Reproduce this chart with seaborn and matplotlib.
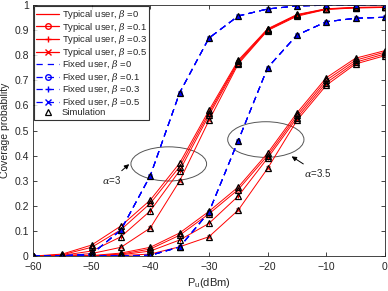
import matplotlib
matplotlib.use('Agg')
import matplotlib.pyplot as plt
import seaborn as sns
import numpy as np
from matplotlib.patches import Ellipse
from matplotlib.lines import Line2D

# transmit power of the user (dBm)
p_u = [-60, -55, -50, -45, -40, -35, -30, -25, -20, -15, -10, -5, 0]
betas = ['0', '0.1', '0.3', '0.5']

# typical user, alpha = 3
typ_a3 = {
    '0':   [0, 0.008, 0.044, 0.120, 0.223, 0.370, 0.580, 0.780, 0.905, 0.962, 0.985, 0.990, 0.992],
    '0.1': [0, 0.005, 0.035, 0.105, 0.210, 0.356, 0.570, 0.775, 0.903, 0.960, 0.984, 0.990, 0.991],
    '0.3': [0, 0.003, 0.020, 0.077, 0.180, 0.340, 0.560, 0.770, 0.900, 0.958, 0.983, 0.989, 0.990],
    '0.5': [0, 0.001, 0.010, 0.035, 0.112, 0.299, 0.540, 0.765, 0.898, 0.955, 0.982, 0.988, 0.990],
}
# typical user, alpha = 3.5
typ_a35 = {
    '0':   [0, 0, 0.002, 0.012, 0.035, 0.092, 0.178, 0.275, 0.410, 0.570, 0.710, 0.788, 0.818],
    '0.1': [0, 0, 0.001, 0.008, 0.028, 0.083, 0.168, 0.265, 0.400, 0.560, 0.700, 0.780, 0.812],
    '0.3': [0, 0, 0.001, 0.005, 0.020, 0.064, 0.130, 0.239, 0.390, 0.550, 0.690, 0.772, 0.805],
    '0.5': [0, 0, 0.000, 0.002, 0.008, 0.037, 0.077, 0.183, 0.349, 0.540, 0.680, 0.765, 0.798],
}
# fixed user (same for every beta)
fix_a3 = [0, 0.001, 0.008, 0.104, 0.320, 0.650, 0.868, 0.956, 0.984, 0.996, 0.999, 1.0, 1.0]
fix_a35 = [0, 0, 0, 0.001, 0.003, 0.036, 0.175, 0.460, 0.750, 0.880, 0.933, 0.947, 0.951]

sns.set_style("ticks")
plt.rcParams['font.family'] = ['Liberation Sans', 'DejaVu Sans']
plt.rcParams['mathtext.fontset'] = 'dejavuserif'

fig = plt.figure(figsize=(3.88, 2.91), dpi=100)
ax = fig.add_axes([0.085, 0.12, 0.907, 0.863])

markers = [None, 'o', '+', 'x']
handles = []
for b, m in zip(betas, markers):
    for data in (typ_a3, typ_a35):
        sns.lineplot(x=p_u, y=data[b], ax=ax, color='red', lw=0.7, marker=m,
                     markersize=2.5, markeredgewidth=0.7, mfc='none', mec='red')
    handles.append(Line2D([], [], color='red', lw=0.9, marker=m, markersize=4,
                          mfc='none', mec='red', label=r'Typical user, $\beta$ =' + b))
for b, m in zip(betas, markers):
    for data in (fix_a3, fix_a35):
        sns.lineplot(x=p_u, y=data, ax=ax, color='blue', lw=0.8, marker=m,
                     markersize=2.5, markeredgewidth=0.7, mfc='blue', mec='blue',
                     dashes=(6, 4))
    handles.append(Line2D([], [], color='blue', lw=0.9, ls=(0, (5, 4)), marker=m,
                          markersize=4, mfc='none', mec='blue',
                          label=r'Fixed user, $\beta$ =' + b))

# simulation points
for data in list(typ_a3.values()) + list(typ_a35.values()):
    ax.plot(p_u, data, '^', ms=4.5, mfc='none', mec='black', mew=0.9)
for data in (fix_a3, fix_a35):
    ax.plot(p_u, data, '^', ms=4.5, mfc='blue', mec='black', mew=0.9)
handles.append(Line2D([], [], ls='none', marker='^', ms=4.5, mfc='none',
                      mec='black', mew=0.9, label='Simulation'))

# ellipses and labels
ax.add_patch(Ellipse((-36.85, 0.367), 12.9, 0.136, fill=False, ec='#555555', lw=0.7))
ax.add_patch(Ellipse((-20.3, 0.464), 13.0, 0.142, fill=False, ec='#555555', lw=0.7))
ax.annotate(r'$\alpha$=3', xy=(-43.6, 0.366), xytext=(-48.3, 0.303),
            fontsize=7, color='#262626', va='center',
            arrowprops=dict(arrowstyle='-|>', color='black', lw=0.7,
                            mutation_scale=7, shrinkA=0, shrinkB=0))
ax.annotate(r'$\alpha$=3.5', xy=(-15.9, 0.397), xytext=(-13.8, 0.33),
            fontsize=7, color='#262626', va='center',
            arrowprops=dict(arrowstyle='-|>', color='black', lw=0.7,
                            mutation_scale=7, shrinkA=0, shrinkB=0))

ax.set_xlim(-60, 0)
ax.set_ylim(0, 1)
ax.set_xticks(np.arange(-60, 1, 10))
ax.set_yticks(np.arange(0, 1.01, 0.1))
ax.set_yticklabels(['0', '0.1', '0.2', '0.3', '0.4', '0.5', '0.6', '0.7', '0.8', '0.9', '1'])
ax.tick_params(direction='in', top=True, right=True, labelsize=7.5, length=3,
               width=0.6, colors='#262626')
ax.tick_params(axis='x', pad=4.5)
ax.tick_params(axis='y', pad=3)
for s in ax.spines.values():
    s.set_visible(True)
    s.set_linewidth(0.6)
    s.set_color('#262626')
ax.set_xlabel(r'P$_\mathregular{u}$(dBm)', fontsize=8, color='#262626', labelpad=3)
ax.set_ylabel('Coverage probability', fontsize=7.5, color='#262626', labelpad=3)

leg = ax.legend(handles=handles, loc='upper left', fontsize=6.8, frameon=True,
                fancybox=False, edgecolor='black', borderaxespad=0.1,
                handlelength=2.4, handletextpad=0.3, labelspacing=-0.05,
                borderpad=0.25)
leg.get_frame().set_linewidth(0.8)

fig.savefig('out.png', dpi=100)
